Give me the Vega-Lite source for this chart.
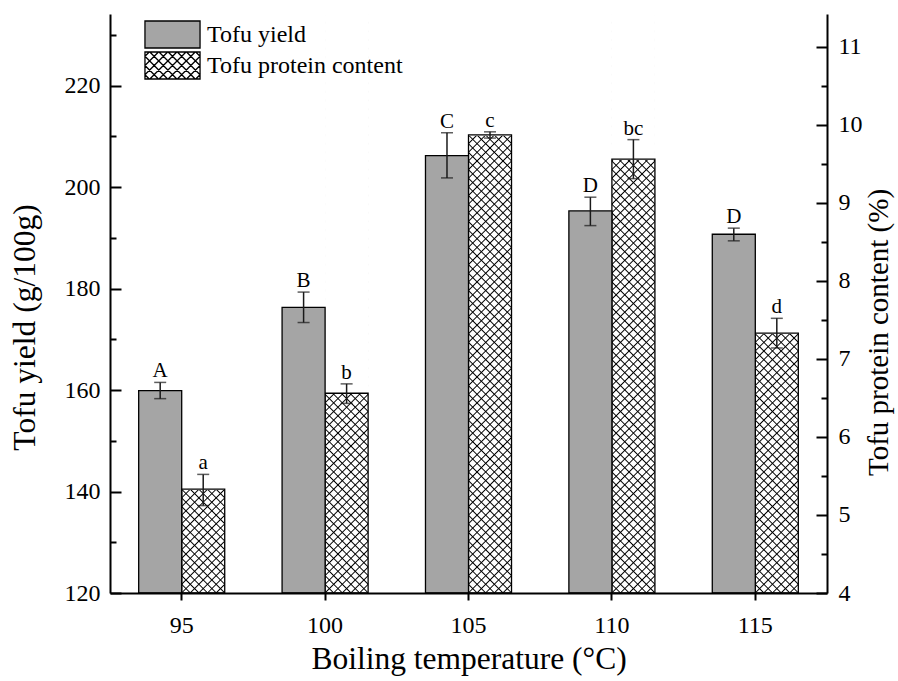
{
  "$schema": "https://vega.github.io/schema/vega-lite/v6.json",
  "width": 717,
  "height": 579,
  "autosize": "none",
  "padding": {"left": 110, "top": 14, "right": 71, "bottom": 88},
  "background": "#ffffff",
  "config": {"view": {"stroke": null}, "font": "Liberation Serif", "axis": {"grid": false}},
  "data": {
    "values": [
      {"T": 95, "series": "Tofu yield", "value": 159.9, "lo": 158.3, "hi": 161.5, "label": "A"},
      {"T": 100, "series": "Tofu yield", "value": 176.3, "lo": 173.3, "hi": 179.3, "label": "B"},
      {"T": 105, "series": "Tofu yield", "value": 206.2, "lo": 201.8, "hi": 210.7, "label": "C"},
      {"T": 110, "series": "Tofu yield", "value": 195.3, "lo": 192.4, "hi": 198.0, "label": "D"},
      {"T": 115, "series": "Tofu yield", "value": 190.7, "lo": 189.4, "hi": 191.9, "label": "D"},
      {"T": 95, "series": "Tofu protein content", "value": 5.33, "lo": 5.12, "hi": 5.52, "label": "a"},
      {"T": 100, "series": "Tofu protein content", "value": 6.56, "lo": 6.43, "hi": 6.68, "label": "b"},
      {"T": 105, "series": "Tofu protein content", "value": 9.87, "lo": 9.83, "hi": 9.91, "label": "c"},
      {"T": 110, "series": "Tofu protein content", "value": 9.56, "lo": 9.31, "hi": 9.81, "label": "bc"},
      {"T": 115, "series": "Tofu protein content", "value": 7.33, "lo": 7.14, "hi": 7.52, "label": "d"}
    ]
  },
  "encoding": {
    "x": {
      "field": "T",
      "type": "ordinal",
      "scale": {"paddingInner": 0.4, "paddingOuter": 0.2},
      "axis": {
        "title": "Boiling temperature (°C)",
        "labelAngle": 0,
        "bandPosition": 0.5,
        "tickSize": 7,
        "tickWidth": 2,
        "tickColor": "#000000",
        "domainColor": "#000000",
        "domainWidth": 2,
        "labelFont": "Liberation Serif",
        "labelFontSize": 24,
        "labelColor": "#000000",
        "labelPadding": 13,
        "titleFont": "Liberation Serif",
        "titleFontSize": 31.5,
        "titleFontWeight": "normal",
        "titleColor": "#000000",
        "titlePadding": 6,
        "zindex": 1
      }
    },
    "xOffset": {
      "field": "series",
      "type": "nominal",
      "scale": {"domain": ["Tofu yield", "Tofu protein content"], "paddingInner": 0, "paddingOuter": 0}
    }
  },
  "layer": [
    {
      "transform": [{"filter": "datum.series === 'Tofu protein content'"}],
      "layer": [
        {
          "mark": {
            "type": "bar",
            "strokeWidth": 0,
            "fill": {
              "gradient": "linear", "x1": 0, "y1": 0, "x2": 0.0794, "y2": 1.0684,
              "stops": [
{"offset":0.0117,"color":"#0000"},{"offset":0.0139,"color":"#000"},{"offset":0.0161,"color":"#0000"},
{"offset":0.0256,"color":"#0000"},{"offset":0.0278,"color":"#000"},{"offset":0.0300,"color":"#0000"},
{"offset":0.0395,"color":"#0000"},{"offset":0.0417,"color":"#000"},{"offset":0.0439,"color":"#0000"},
{"offset":0.0534,"color":"#0000"},{"offset":0.0556,"color":"#000"},{"offset":0.0578,"color":"#0000"},
{"offset":0.0672,"color":"#0000"},{"offset":0.0694,"color":"#000"},{"offset":0.0716,"color":"#0000"},
{"offset":0.0811,"color":"#0000"},{"offset":0.0833,"color":"#000"},{"offset":0.0855,"color":"#0000"},
{"offset":0.0950,"color":"#0000"},{"offset":0.0972,"color":"#000"},{"offset":0.0994,"color":"#0000"},
{"offset":0.1089,"color":"#0000"},{"offset":0.1111,"color":"#000"},{"offset":0.1133,"color":"#0000"},
{"offset":0.1228,"color":"#0000"},{"offset":0.1250,"color":"#000"},{"offset":0.1272,"color":"#0000"},
{"offset":0.1367,"color":"#0000"},{"offset":0.1389,"color":"#000"},{"offset":0.1411,"color":"#0000"},
{"offset":0.1506,"color":"#0000"},{"offset":0.1528,"color":"#000"},{"offset":0.1550,"color":"#0000"},
{"offset":0.1645,"color":"#0000"},{"offset":0.1667,"color":"#000"},{"offset":0.1689,"color":"#0000"},
{"offset":0.1784,"color":"#0000"},{"offset":0.1806,"color":"#000"},{"offset":0.1828,"color":"#0000"},
{"offset":0.1922,"color":"#0000"},{"offset":0.1944,"color":"#000"},{"offset":0.1966,"color":"#0000"},
{"offset":0.2061,"color":"#0000"},{"offset":0.2083,"color":"#000"},{"offset":0.2105,"color":"#0000"},
{"offset":0.2200,"color":"#0000"},{"offset":0.2222,"color":"#000"},{"offset":0.2244,"color":"#0000"},
{"offset":0.2339,"color":"#0000"},{"offset":0.2361,"color":"#000"},{"offset":0.2383,"color":"#0000"},
{"offset":0.2478,"color":"#0000"},{"offset":0.2500,"color":"#000"},{"offset":0.2522,"color":"#0000"},
{"offset":0.2617,"color":"#0000"},{"offset":0.2639,"color":"#000"},{"offset":0.2661,"color":"#0000"},
{"offset":0.2756,"color":"#0000"},{"offset":0.2778,"color":"#000"},{"offset":0.2800,"color":"#0000"},
{"offset":0.2895,"color":"#0000"},{"offset":0.2917,"color":"#000"},{"offset":0.2939,"color":"#0000"},
{"offset":0.3034,"color":"#0000"},{"offset":0.3056,"color":"#000"},{"offset":0.3078,"color":"#0000"},
{"offset":0.3172,"color":"#0000"},{"offset":0.3194,"color":"#000"},{"offset":0.3216,"color":"#0000"},
{"offset":0.3311,"color":"#0000"},{"offset":0.3333,"color":"#000"},{"offset":0.3355,"color":"#0000"},
{"offset":0.3450,"color":"#0000"},{"offset":0.3472,"color":"#000"},{"offset":0.3494,"color":"#0000"},
{"offset":0.3589,"color":"#0000"},{"offset":0.3611,"color":"#000"},{"offset":0.3633,"color":"#0000"},
{"offset":0.3728,"color":"#0000"},{"offset":0.3750,"color":"#000"},{"offset":0.3772,"color":"#0000"},
{"offset":0.3867,"color":"#0000"},{"offset":0.3889,"color":"#000"},{"offset":0.3911,"color":"#0000"},
{"offset":0.4006,"color":"#0000"},{"offset":0.4028,"color":"#000"},{"offset":0.4050,"color":"#0000"},
{"offset":0.4145,"color":"#0000"},{"offset":0.4167,"color":"#000"},{"offset":0.4189,"color":"#0000"},
{"offset":0.4284,"color":"#0000"},{"offset":0.4306,"color":"#000"},{"offset":0.4328,"color":"#0000"},
{"offset":0.4422,"color":"#0000"},{"offset":0.4444,"color":"#000"},{"offset":0.4466,"color":"#0000"},
{"offset":0.4561,"color":"#0000"},{"offset":0.4583,"color":"#000"},{"offset":0.4605,"color":"#0000"},
{"offset":0.4700,"color":"#0000"},{"offset":0.4722,"color":"#000"},{"offset":0.4744,"color":"#0000"},
{"offset":0.4839,"color":"#0000"},{"offset":0.4861,"color":"#000"},{"offset":0.4883,"color":"#0000"},
{"offset":0.4978,"color":"#0000"},{"offset":0.5000,"color":"#000"},{"offset":0.5022,"color":"#0000"},
{"offset":0.5117,"color":"#0000"},{"offset":0.5139,"color":"#000"},{"offset":0.5161,"color":"#0000"},
{"offset":0.5256,"color":"#0000"},{"offset":0.5278,"color":"#000"},{"offset":0.5300,"color":"#0000"},
{"offset":0.5395,"color":"#0000"},{"offset":0.5417,"color":"#000"},{"offset":0.5439,"color":"#0000"},
{"offset":0.5534,"color":"#0000"},{"offset":0.5556,"color":"#000"},{"offset":0.5578,"color":"#0000"},
{"offset":0.5672,"color":"#0000"},{"offset":0.5694,"color":"#000"},{"offset":0.5716,"color":"#0000"},
{"offset":0.5811,"color":"#0000"},{"offset":0.5833,"color":"#000"},{"offset":0.5855,"color":"#0000"},
{"offset":0.5950,"color":"#0000"},{"offset":0.5972,"color":"#000"},{"offset":0.5994,"color":"#0000"},
{"offset":0.6089,"color":"#0000"},{"offset":0.6111,"color":"#000"},{"offset":0.6133,"color":"#0000"},
{"offset":0.6228,"color":"#0000"},{"offset":0.6250,"color":"#000"},{"offset":0.6272,"color":"#0000"},
{"offset":0.6367,"color":"#0000"},{"offset":0.6389,"color":"#000"},{"offset":0.6411,"color":"#0000"},
{"offset":0.6506,"color":"#0000"},{"offset":0.6528,"color":"#000"},{"offset":0.6550,"color":"#0000"},
{"offset":0.6645,"color":"#0000"},{"offset":0.6667,"color":"#000"},{"offset":0.6689,"color":"#0000"},
{"offset":0.6784,"color":"#0000"},{"offset":0.6806,"color":"#000"},{"offset":0.6828,"color":"#0000"},
{"offset":0.6922,"color":"#0000"},{"offset":0.6944,"color":"#000"},{"offset":0.6966,"color":"#0000"},
{"offset":0.7061,"color":"#0000"},{"offset":0.7083,"color":"#000"},{"offset":0.7105,"color":"#0000"},
{"offset":0.7200,"color":"#0000"},{"offset":0.7222,"color":"#000"},{"offset":0.7244,"color":"#0000"},
{"offset":0.7339,"color":"#0000"},{"offset":0.7361,"color":"#000"},{"offset":0.7383,"color":"#0000"},
{"offset":0.7478,"color":"#0000"},{"offset":0.7500,"color":"#000"},{"offset":0.7522,"color":"#0000"},
{"offset":0.7617,"color":"#0000"},{"offset":0.7639,"color":"#000"},{"offset":0.7661,"color":"#0000"},
{"offset":0.7756,"color":"#0000"},{"offset":0.7778,"color":"#000"},{"offset":0.7800,"color":"#0000"},
{"offset":0.7895,"color":"#0000"},{"offset":0.7917,"color":"#000"},{"offset":0.7939,"color":"#0000"},
{"offset":0.8034,"color":"#0000"},{"offset":0.8056,"color":"#000"},{"offset":0.8078,"color":"#0000"},
{"offset":0.8172,"color":"#0000"},{"offset":0.8194,"color":"#000"},{"offset":0.8216,"color":"#0000"},
{"offset":0.8311,"color":"#0000"},{"offset":0.8333,"color":"#000"},{"offset":0.8355,"color":"#0000"},
{"offset":0.8450,"color":"#0000"},{"offset":0.8472,"color":"#000"},{"offset":0.8494,"color":"#0000"},
{"offset":0.8589,"color":"#0000"},{"offset":0.8611,"color":"#000"},{"offset":0.8633,"color":"#0000"},
{"offset":0.8728,"color":"#0000"},{"offset":0.8750,"color":"#000"},{"offset":0.8772,"color":"#0000"},
{"offset":0.8867,"color":"#0000"},{"offset":0.8889,"color":"#000"},{"offset":0.8911,"color":"#0000"},
{"offset":0.9006,"color":"#0000"},{"offset":0.9028,"color":"#000"},{"offset":0.9050,"color":"#0000"},
{"offset":0.9145,"color":"#0000"},{"offset":0.9167,"color":"#000"},{"offset":0.9189,"color":"#0000"},
{"offset":0.9284,"color":"#0000"},{"offset":0.9306,"color":"#000"},{"offset":0.9328,"color":"#0000"},
{"offset":0.9422,"color":"#0000"},{"offset":0.9444,"color":"#000"},{"offset":0.9466,"color":"#0000"},
{"offset":0.9561,"color":"#0000"},{"offset":0.9583,"color":"#000"},{"offset":0.9605,"color":"#0000"},
{"offset":0.9700,"color":"#0000"},{"offset":0.9722,"color":"#000"},{"offset":0.9744,"color":"#0000"},
{"offset":0.9839,"color":"#0000"},{"offset":0.9861,"color":"#000"},{"offset":0.9883,"color":"#0000"}
              ]
            }
          },
          "encoding": {
            "y": {
              "datum": 4,
              "type": "quantitative",
              "scale": {"domain": [4, 11.42], "nice": false, "zero": false},
              "axis": {
                "orient": "right",
                "title": "Tofu protein content (%)",
                "values": [4, 4.5, 5, 5.5, 6, 6.5, 7, 7.5, 8, 8.5, 9, 9.5, 10, 10.5, 11],
                "tickSize": {"expr": "datum.value % 1 === 0 ? -11 : -6"},
                "labelExpr": "datum.value % 1 === 0 ? '' + datum.value : ''",
                "labelFlush": false,
                "labelOverlap": false,
                "tickWidth": 2,
                "tickColor": "#000000",
                "domainColor": "#000000",
                "domainWidth": 2,
                "labelFont": "Liberation Serif",
                "labelFontSize": 24,
                "labelColor": "#000000",
                "labelPadding": 22,
                "titleFont": "Liberation Serif",
                "titleFontSize": 29,
                "titleFontWeight": "normal",
                "titleColor": "#000000",
                "titleAngle": -90,
                "titleBaseline": "top",
                "titlePadding": 2,
                "titleY": 318,
                "zindex": 1
              }
            },
            "y2": {"datum": 11.42}
          }
        },
        {
          "mark": {
            "type": "bar",
            "strokeWidth": 0,
            "fill": {
              "gradient": "linear", "x1": 0, "y1": 1, "x2": 0.0794, "y2": -0.0684,
              "stops": [
{"offset":0.0117,"color":"#0000"},{"offset":0.0139,"color":"#000"},{"offset":0.0161,"color":"#0000"},
{"offset":0.0256,"color":"#0000"},{"offset":0.0278,"color":"#000"},{"offset":0.0300,"color":"#0000"},
{"offset":0.0395,"color":"#0000"},{"offset":0.0417,"color":"#000"},{"offset":0.0439,"color":"#0000"},
{"offset":0.0534,"color":"#0000"},{"offset":0.0556,"color":"#000"},{"offset":0.0578,"color":"#0000"},
{"offset":0.0672,"color":"#0000"},{"offset":0.0694,"color":"#000"},{"offset":0.0716,"color":"#0000"},
{"offset":0.0811,"color":"#0000"},{"offset":0.0833,"color":"#000"},{"offset":0.0855,"color":"#0000"},
{"offset":0.0950,"color":"#0000"},{"offset":0.0972,"color":"#000"},{"offset":0.0994,"color":"#0000"},
{"offset":0.1089,"color":"#0000"},{"offset":0.1111,"color":"#000"},{"offset":0.1133,"color":"#0000"},
{"offset":0.1228,"color":"#0000"},{"offset":0.1250,"color":"#000"},{"offset":0.1272,"color":"#0000"},
{"offset":0.1367,"color":"#0000"},{"offset":0.1389,"color":"#000"},{"offset":0.1411,"color":"#0000"},
{"offset":0.1506,"color":"#0000"},{"offset":0.1528,"color":"#000"},{"offset":0.1550,"color":"#0000"},
{"offset":0.1645,"color":"#0000"},{"offset":0.1667,"color":"#000"},{"offset":0.1689,"color":"#0000"},
{"offset":0.1784,"color":"#0000"},{"offset":0.1806,"color":"#000"},{"offset":0.1828,"color":"#0000"},
{"offset":0.1922,"color":"#0000"},{"offset":0.1944,"color":"#000"},{"offset":0.1966,"color":"#0000"},
{"offset":0.2061,"color":"#0000"},{"offset":0.2083,"color":"#000"},{"offset":0.2105,"color":"#0000"},
{"offset":0.2200,"color":"#0000"},{"offset":0.2222,"color":"#000"},{"offset":0.2244,"color":"#0000"},
{"offset":0.2339,"color":"#0000"},{"offset":0.2361,"color":"#000"},{"offset":0.2383,"color":"#0000"},
{"offset":0.2478,"color":"#0000"},{"offset":0.2500,"color":"#000"},{"offset":0.2522,"color":"#0000"},
{"offset":0.2617,"color":"#0000"},{"offset":0.2639,"color":"#000"},{"offset":0.2661,"color":"#0000"},
{"offset":0.2756,"color":"#0000"},{"offset":0.2778,"color":"#000"},{"offset":0.2800,"color":"#0000"},
{"offset":0.2895,"color":"#0000"},{"offset":0.2917,"color":"#000"},{"offset":0.2939,"color":"#0000"},
{"offset":0.3034,"color":"#0000"},{"offset":0.3056,"color":"#000"},{"offset":0.3078,"color":"#0000"},
{"offset":0.3172,"color":"#0000"},{"offset":0.3194,"color":"#000"},{"offset":0.3216,"color":"#0000"},
{"offset":0.3311,"color":"#0000"},{"offset":0.3333,"color":"#000"},{"offset":0.3355,"color":"#0000"},
{"offset":0.3450,"color":"#0000"},{"offset":0.3472,"color":"#000"},{"offset":0.3494,"color":"#0000"},
{"offset":0.3589,"color":"#0000"},{"offset":0.3611,"color":"#000"},{"offset":0.3633,"color":"#0000"},
{"offset":0.3728,"color":"#0000"},{"offset":0.3750,"color":"#000"},{"offset":0.3772,"color":"#0000"},
{"offset":0.3867,"color":"#0000"},{"offset":0.3889,"color":"#000"},{"offset":0.3911,"color":"#0000"},
{"offset":0.4006,"color":"#0000"},{"offset":0.4028,"color":"#000"},{"offset":0.4050,"color":"#0000"},
{"offset":0.4145,"color":"#0000"},{"offset":0.4167,"color":"#000"},{"offset":0.4189,"color":"#0000"},
{"offset":0.4284,"color":"#0000"},{"offset":0.4306,"color":"#000"},{"offset":0.4328,"color":"#0000"},
{"offset":0.4422,"color":"#0000"},{"offset":0.4444,"color":"#000"},{"offset":0.4466,"color":"#0000"},
{"offset":0.4561,"color":"#0000"},{"offset":0.4583,"color":"#000"},{"offset":0.4605,"color":"#0000"},
{"offset":0.4700,"color":"#0000"},{"offset":0.4722,"color":"#000"},{"offset":0.4744,"color":"#0000"},
{"offset":0.4839,"color":"#0000"},{"offset":0.4861,"color":"#000"},{"offset":0.4883,"color":"#0000"},
{"offset":0.4978,"color":"#0000"},{"offset":0.5000,"color":"#000"},{"offset":0.5022,"color":"#0000"},
{"offset":0.5117,"color":"#0000"},{"offset":0.5139,"color":"#000"},{"offset":0.5161,"color":"#0000"},
{"offset":0.5256,"color":"#0000"},{"offset":0.5278,"color":"#000"},{"offset":0.5300,"color":"#0000"},
{"offset":0.5395,"color":"#0000"},{"offset":0.5417,"color":"#000"},{"offset":0.5439,"color":"#0000"},
{"offset":0.5534,"color":"#0000"},{"offset":0.5556,"color":"#000"},{"offset":0.5578,"color":"#0000"},
{"offset":0.5672,"color":"#0000"},{"offset":0.5694,"color":"#000"},{"offset":0.5716,"color":"#0000"},
{"offset":0.5811,"color":"#0000"},{"offset":0.5833,"color":"#000"},{"offset":0.5855,"color":"#0000"},
{"offset":0.5950,"color":"#0000"},{"offset":0.5972,"color":"#000"},{"offset":0.5994,"color":"#0000"},
{"offset":0.6089,"color":"#0000"},{"offset":0.6111,"color":"#000"},{"offset":0.6133,"color":"#0000"},
{"offset":0.6228,"color":"#0000"},{"offset":0.6250,"color":"#000"},{"offset":0.6272,"color":"#0000"},
{"offset":0.6367,"color":"#0000"},{"offset":0.6389,"color":"#000"},{"offset":0.6411,"color":"#0000"},
{"offset":0.6506,"color":"#0000"},{"offset":0.6528,"color":"#000"},{"offset":0.6550,"color":"#0000"},
{"offset":0.6645,"color":"#0000"},{"offset":0.6667,"color":"#000"},{"offset":0.6689,"color":"#0000"},
{"offset":0.6784,"color":"#0000"},{"offset":0.6806,"color":"#000"},{"offset":0.6828,"color":"#0000"},
{"offset":0.6922,"color":"#0000"},{"offset":0.6944,"color":"#000"},{"offset":0.6966,"color":"#0000"},
{"offset":0.7061,"color":"#0000"},{"offset":0.7083,"color":"#000"},{"offset":0.7105,"color":"#0000"},
{"offset":0.7200,"color":"#0000"},{"offset":0.7222,"color":"#000"},{"offset":0.7244,"color":"#0000"},
{"offset":0.7339,"color":"#0000"},{"offset":0.7361,"color":"#000"},{"offset":0.7383,"color":"#0000"},
{"offset":0.7478,"color":"#0000"},{"offset":0.7500,"color":"#000"},{"offset":0.7522,"color":"#0000"},
{"offset":0.7617,"color":"#0000"},{"offset":0.7639,"color":"#000"},{"offset":0.7661,"color":"#0000"},
{"offset":0.7756,"color":"#0000"},{"offset":0.7778,"color":"#000"},{"offset":0.7800,"color":"#0000"},
{"offset":0.7895,"color":"#0000"},{"offset":0.7917,"color":"#000"},{"offset":0.7939,"color":"#0000"},
{"offset":0.8034,"color":"#0000"},{"offset":0.8056,"color":"#000"},{"offset":0.8078,"color":"#0000"},
{"offset":0.8172,"color":"#0000"},{"offset":0.8194,"color":"#000"},{"offset":0.8216,"color":"#0000"},
{"offset":0.8311,"color":"#0000"},{"offset":0.8333,"color":"#000"},{"offset":0.8355,"color":"#0000"},
{"offset":0.8450,"color":"#0000"},{"offset":0.8472,"color":"#000"},{"offset":0.8494,"color":"#0000"},
{"offset":0.8589,"color":"#0000"},{"offset":0.8611,"color":"#000"},{"offset":0.8633,"color":"#0000"},
{"offset":0.8728,"color":"#0000"},{"offset":0.8750,"color":"#000"},{"offset":0.8772,"color":"#0000"},
{"offset":0.8867,"color":"#0000"},{"offset":0.8889,"color":"#000"},{"offset":0.8911,"color":"#0000"},
{"offset":0.9006,"color":"#0000"},{"offset":0.9028,"color":"#000"},{"offset":0.9050,"color":"#0000"},
{"offset":0.9145,"color":"#0000"},{"offset":0.9167,"color":"#000"},{"offset":0.9189,"color":"#0000"},
{"offset":0.9284,"color":"#0000"},{"offset":0.9306,"color":"#000"},{"offset":0.9328,"color":"#0000"},
{"offset":0.9422,"color":"#0000"},{"offset":0.9444,"color":"#000"},{"offset":0.9466,"color":"#0000"},
{"offset":0.9561,"color":"#0000"},{"offset":0.9583,"color":"#000"},{"offset":0.9605,"color":"#0000"},
{"offset":0.9700,"color":"#0000"},{"offset":0.9722,"color":"#000"},{"offset":0.9744,"color":"#0000"},
{"offset":0.9839,"color":"#0000"},{"offset":0.9861,"color":"#000"},{"offset":0.9883,"color":"#0000"}
              ]
            }
          },
          "encoding": {
            "y": {"datum": 4, "type": "quantitative"},
            "y2": {"datum": 11.42}
          }
        },
        {
          "mark": {"type": "bar", "fill": "#ffffff", "stroke": "#ffffff", "strokeWidth": 1.5},
          "encoding": {
            "y": {"field": "value", "type": "quantitative"},
            "y2": {"datum": 11.42}
          }
        },
        {
          "mark": {"type": "bar", "fill": "#ffffff", "fillOpacity": 0, "stroke": "#000000", "strokeWidth": 1.3},
          "encoding": {
            "y": {"field": "value", "type": "quantitative"},
            "y2": {"datum": 4}
          }
        },
        {
          "mark": {"type": "rule", "color": "#1a1a1a", "strokeWidth": 1.5},
          "encoding": {
            "y": {"field": "lo", "type": "quantitative"},
            "y2": {"field": "hi"}
          }
        },
        {
          "mark": {"type": "tick", "color": "#1a1a1a", "thickness": 1.5, "size": 12},
          "encoding": {"y": {"field": "lo", "type": "quantitative"}}
        },
        {
          "mark": {"type": "tick", "color": "#1a1a1a", "thickness": 1.5, "size": 12},
          "encoding": {"y": {"field": "hi", "type": "quantitative"}}
        },
        {
          "mark": {"type": "text", "font": "Liberation Serif", "fontSize": 21, "fill": "#000000", "baseline": "alphabetic", "dy": -5},
          "encoding": {
            "y": {"field": "hi", "type": "quantitative"},
            "text": {"field": "label"}
          }
        }
      ]
    },
    {
      "transform": [{"filter": "datum.series === 'Tofu yield'"}],
      "layer": [
        {
          "mark": {"type": "bar", "stroke": "#000000", "strokeWidth": 1.3},
          "encoding": {
            "y": {
              "field": "value",
              "type": "quantitative",
              "scale": {"domain": [120, 234.1], "nice": false, "zero": false},
              "axis": {
                "orient": "left",
                "title": "Tofu yield (g/100g)",
                "values": [120, 130, 140, 150, 160, 170, 180, 190, 200, 210, 220, 230],
                "tickSize": {"expr": "datum.value % 20 === 0 ? -11 : -6"},
                "labelExpr": "datum.value % 20 === 0 ? datum.label : ''",
                "labelFlush": false,
                "labelOverlap": false,
                "tickWidth": 2,
                "tickColor": "#000000",
                "domainColor": "#000000",
                "domainWidth": 2,
                "labelFont": "Liberation Serif",
                "labelFontSize": 24,
                "labelColor": "#000000",
                "labelPadding": 21,
                "titleFont": "Liberation Serif",
                "titleFontSize": 31.5,
                "titleFontWeight": "normal",
                "titleColor": "#000000",
                "titlePadding": 23,
                "titleY": 313,
                "zindex": 1
              }
            },
            "y2": {"datum": 120},
            "fill": {
              "field": "series",
              "type": "nominal",
              "scale": {"domain": ["Tofu yield", "Tofu protein content"], "range": ["#a5a5a5", "#ffffff"]},
              "legend": {
                "title": null,
                "orient": "none",
                "legendX": 34,
                "legendY": 6,
                "direction": "vertical",
                "padding": 0,
                "rowPadding": -3,
                "symbolSize": 729,
                "symbolOffset": 14,
                "labelOffset": 20,
                "labelFont": "Liberation Serif",
                "labelFontSize": 24,
                "labelColor": "#000000",
                "labelLimit": 400,
                "symbolStrokeColor": "#000000",
                "symbolStrokeWidth": 1.3,
                "symbolType": {"expr": "datum.value === 'Tofu yield' ? 'M-2.04,-1H2.04V1H-2.04Z' : 'M-2.04,-1H2.04V1H-2.04Z M1,-1L-1,1 M1.68,-1L-0.32,1 M0.32,-1L-1.68,1 M2.04,-0.68L0.36,1 M-0.36,-1L-2.04,0.68 M2.04,0L1.04,1 M-1.04,-1L-2.04,0 M2.04,0.68L1.72,1 M-1.72,-1L-2.04,-0.68 M-1,-1L1,1 M-0.32,-1L1.68,1 M-1.68,-1L0.32,1 M0.36,-1L2.04,0.68 M-2.04,-0.68L-0.36,1 M1.04,-1L2.04,0 M-2.04,0L-1.04,1 M1.72,-1L2.04,-0.68 M-2.04,0.68L-1.72,1'"},
                "zindex": 1
              }
            }
          }
        },
        {
          "mark": {"type": "rule", "color": "#1a1a1a", "strokeWidth": 1.5},
          "encoding": {
            "y": {"field": "lo", "type": "quantitative"},
            "y2": {"field": "hi"}
          }
        },
        {
          "mark": {"type": "tick", "color": "#1a1a1a", "thickness": 1.5, "size": 12},
          "encoding": {"y": {"field": "lo", "type": "quantitative"}}
        },
        {
          "mark": {"type": "tick", "color": "#1a1a1a", "thickness": 1.5, "size": 12},
          "encoding": {"y": {"field": "hi", "type": "quantitative"}}
        },
        {
          "mark": {"type": "text", "font": "Liberation Serif", "fontSize": 21, "fill": "#000000", "baseline": "alphabetic", "dy": -5},
          "encoding": {
            "y": {"field": "hi", "type": "quantitative"},
            "text": {"field": "label"}
          }
        }
      ]
    }
  ],
  "resolve": {"scale": {"y": "independent"}}
}
